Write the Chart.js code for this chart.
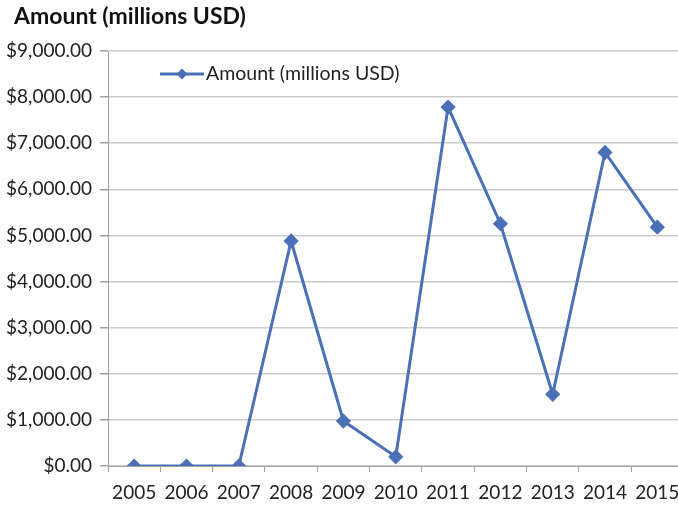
<!DOCTYPE html>
<html>
<head>
<meta charset="utf-8">
<script src="https://cdn.jsdelivr.net/npm/chart.js@4/dist/chart.umd.min.js"></script>
<style>
  html, body { margin: 0; padding: 0; overflow: hidden; background: #fff; }
  #wrap { width: 692px; height: 505px; }
</style>
</head>
<body>
<div id="wrap"><canvas id="c" width="692" height="505"></canvas></div>
<script>
// Annual amounts, millions of US dollars
const years = ['2005','2006','2007','2008','2009','2010','2011','2012','2013','2014','2015'];
const amounts = [0, 0, 0, 4880, 975, 200, 7785, 5255, 1555, 6800, 5180];
const seriesName = 'Amount (millions USD)';
const chartTitle = 'Amount (millions USD)';

const lineColor = '#4a70b8';
const fontFamily = 'Lato, "Open Sans", sans-serif';

// Chart heading, top-left corner
const heading = {
  id: 'heading',
  afterDraw(chart) {
    const ctx = chart.ctx;
    ctx.save();
    ctx.fillStyle = '#111';
    ctx.font = 'bold 23px ' + fontFamily;
    ctx.textBaseline = 'middle';
    ctx.textAlign = 'left';
    ctx.fillText(chartTitle, 14, 17);
    ctx.restore();
  }
};

// Legend drawn inside the plot area
const innerLegend = {
  id: 'innerLegend',
  afterDraw(chart) {
    const ctx = chart.ctx;
    const ds = chart.data.datasets[0];
    const x0 = chart.chartArea.left + 52;
    const y0 = chart.chartArea.top + 23;
    ctx.save();
    ctx.strokeStyle = ds.borderColor;
    ctx.lineWidth = 3;
    ctx.beginPath();
    ctx.moveTo(x0, y0);
    ctx.lineTo(x0 + 44, y0);
    ctx.stroke();
    const cx = x0 + 22, r = 5.5;
    ctx.fillStyle = ds.borderColor;
    ctx.beginPath();
    ctx.moveTo(cx, y0 - r);
    ctx.lineTo(cx + r, y0);
    ctx.lineTo(cx, y0 + r);
    ctx.lineTo(cx - r, y0);
    ctx.closePath();
    ctx.fill();
    ctx.fillStyle = '#222';
    ctx.font = '19.5px ' + fontFamily;
    ctx.textBaseline = 'middle';
    ctx.textAlign = 'left';
    ctx.fillText(ds.label, x0 + 46, y0);
    ctx.restore();
  }
};

new Chart(document.getElementById('c'), {
  type: 'line',
  data: {
    labels: years,
    datasets: [{
      label: seriesName,
      data: amounts,
      borderColor: lineColor,
      backgroundColor: lineColor,
      borderWidth: 3,
      pointStyle: 'rectRot',
      pointRadius: 5.5,
      pointHoverRadius: 5.5,
      tension: 0
    }]
  },
  options: {
    responsive: false,
    animation: false,
    devicePixelRatio: 1,
    layout: { padding: { left: 0, right: 6, top: 51, bottom: 0 } },
    plugins: {
      legend: { display: false },
      tooltip: { enabled: false },
      title: { display: false }
    },
    scales: {
      x: {
        offset: true,
        grid: {
          display: true,
          offset: true,
          drawOnChartArea: false,
          drawTicks: true,
          tickLength: 6,
          color: '#a0a0a0'
        },
        border: { display: true, color: '#a0a0a0' },
        ticks: {
          color: '#222',
          padding: 9,
          maxRotation: 0,
          autoSkip: false,
          font: { family: fontFamily, size: 19 }
        },
        afterFit(scale) { scale.height = 39; }
      },
      y: {
        min: 0,
        max: 9000,
        ticks: {
          stepSize: 1000,
          color: '#222',
          padding: 8,
          font: { family: fontFamily, size: 19 },
          callback: v => '$' + Number(v).toLocaleString('en-US', { minimumFractionDigits: 2, maximumFractionDigits: 2 })
        },
        grid: {
          color: '#cccccc',
          lineWidth: 1.5,
          tickLength: 8,
          tickColor: '#a0a0a0'
        },
        border: { display: true, color: '#a0a0a0' },
        afterFit(scale) { scale.width = 108; }
      }
    }
  },
  plugins: [heading, innerLegend]
});
</script>
</body>
</html>
